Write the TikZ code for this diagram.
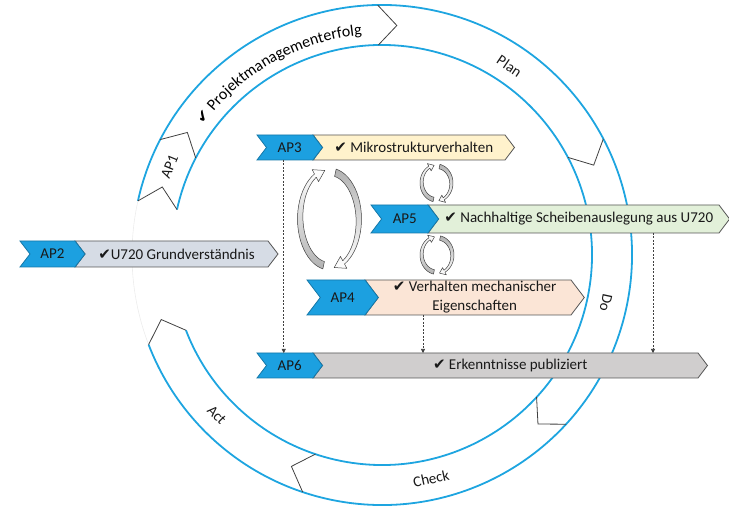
\documentclass[tikz,border=0pt]{standalone}
\usepackage{fontspec}
\setmainfont{Carlito}
\newfontfamily\chk{DejaVu Sans}
\usetikzlibrary{arrows.meta,decorations.text,calc}
\pgfdeclarelayer{ringl}
\pgfdeclarelayer{boxl}
\pgfsetlayers{ringl,boxl,main}
\definecolor{ringblue}{RGB}{30,165,224}
\definecolor{apblue}{RGB}{28,160,224}
\definecolor{yel}{RGB}{255,242,204}
\definecolor{gblue}{RGB}{214,220,229}
\definecolor{grn}{RGB}{226,240,217}
\definecolor{pch}{RGB}{251,229,214}
\definecolor{gry}{RGB}{208,206,206}
\definecolor{edgec}{RGB}{85,85,85}
\definecolor{segc}{RGB}{64,64,64}
\newcommand\ck{{\chk\fontsize{15}{15}\selectfont ✔}}
\newcommand\ringf{\fontsize{16}{18}\selectfont}
\newcommand\ringck{\fontsize{15}{17}\selectfont\chk}
\newcommand\chevbg[4]{%
  \begin{pgfonlayer}{boxl}
  \filldraw[fill=#3, draw=#4, line width=0.8pt, line join=miter]
    ([xshift=-#2/2*1pt]#1.north west) -- ([xshift=-#2/2*1pt]#1.north east)
    -- ([xshift=#2/2*1pt]#1.east) -- ([xshift=-#2/2*1pt]#1.south east)
    -- ([xshift=-#2/2*1pt]#1.south west) -- ([xshift=#2/2*1pt]#1.west) -- cycle;
  \end{pgfonlayer}}
\newcommand\cycarrow[7]{%
  \shade[#7, draw=segc, line width=0.5pt, line join=round]
    plot[domain=258:118, samples=25, variable=\s] ({#1+#3*cos(\s+#6)},{#2+#4*sin(\s+#6)})
    -- ({#1+(#3+0.65*#5)*cos(118+#6)},{#2+(#4+0.65*#5)*sin(118+#6)})
    -- ({#1+(#3-0.25*#5)*cos(99+#6)},{#2+(#4-0.25*#5)*sin(99+#6)})
    -- ({#1+(#3-1.15*#5)*cos(118+#6)},{#2+(#4-1.15*#5)*sin(118+#6)})
    -- plot[domain=118:258, samples=25, variable=\s]
       ({#1+(#3-0.5*#5-0.5*#5*(\s-118)/140)*cos(\s+#6)},{#2+(#4-0.5*#5-0.5*#5*(\s-118)/140)*sin(\s+#6)})
    -- cycle;}
\begin{document}
\begin{tikzpicture}[x=1pt,y=1pt,font=\fontsize{15}{17}\selectfont,
  lab/.style={inner sep=0pt, outer sep=0pt, text=black!90},
  txt/.style={inner sep=0pt, outer sep=0pt, text=black!90, align=center},
  ringtxt/.style={inner sep=0pt, text=black!90},
  dep/.style={draw=black!75, line width=0.6pt, dash pattern=on 2pt off 1.5pt, -{Triangle[length=4pt,width=4pt]}},
  cycL/.style={top color=white, middle color=white, bottom color=gray!60},
  cycR/.style={top color=gray!60, middle color=white, bottom color=white}]
\useasboundingbox (0,0) rectangle (729,509);
\coordinate (O) at (382,254);
% ring
\begin{pgfonlayer}{ringl}
\draw[gray!15, line width=0.6pt] ($(O)+(-159:250)$) arc[start angle=-159, end angle=-192.5, radius=250];
\draw[ringblue, line width=1.8pt] ($(O)+(167.5:250)$) arc[start angle=167.5, end angle=-159, radius=250];
\draw[ringblue, line width=1.8pt] ($(O)+(167.5:210)$) arc[start angle=167.5, end angle=-159, radius=210];
\foreach \b in {167.5,152.5,91,27.7,-42.6,-108.5,-159}
  \draw[segc, line width=0.8pt, line join=miter] ($(O)+(\b:250)$) -- ($(O)+({\b-4.7}:230)$) -- ($(O)+(\b:210)$);
\end{pgfonlayer}
% ring labels
\node[ringtxt, rotate=67.5] (lap1) at ($(O)+(157.5:230)$) {AP1};
\node[ringtxt, rotate=-34] (lplan) at ($(O)+(56:228)$) {Plan};
\node[ringtxt, rotate=-102] (ldo) at ($(O)+(-12:229)$) {Do};
\node[ringtxt, rotate=12.4] (lcheck) at ($(O)+(-77.6:229)$) {Check};
\node[ringtxt, rotate=-45.9] (lact) at ($(O)+(-135.9:230)$) {Act};
\path[decorate, decoration={text along path, text align=center,
  text={|\ringck|✔|\ringf| Projektmanagementerfolg}}]
  ($(O)+(150:221)$) arc[start angle=150, end angle=89, radius=221];
% rows
\node[txt, minimum width=193, minimum height=26] (t2) at (176.5,255) {\ck U720 Grundverständnis};
\node[lab, minimum width=55, minimum height=26] (a2) at (52.5,255) {AP2};
\chevbg{t2}{10}{gblue}{edgec}
\chevbg{a2}{10}{apblue}{apblue!75!black}
\node[txt, minimum width=192, minimum height=25] (t3) at (413.75,361.5) {\ck{} Mikrostrukturverhalten};
\node[lab, minimum width=56, minimum height=25] (a3) at (289.75,361.5) {AP3};
\chevbg{t3}{9.5}{yel}{edgec}
\chevbg{a3}{9.5}{apblue}{apblue!75!black}
\node[txt, minimum width=291, minimum height=28] (t5) at (578.8,290) {\ck{} Nachhaltige Scheibenauslegung aus U720};
\node[lab, minimum width=57, minimum height=28] (a5) at (404.8,290) {AP5};
\chevbg{t5}{10.6}{grn}{edgec}
\chevbg{a5}{10.6}{apblue}{apblue!75!black}
\node[txt, minimum width=206, minimum height=35, font=\fontsize{15}{19}\selectfont] (t4) at (474.65,211.5) {\ck{} Verhalten mechanischer\\Eigenschaften};
\node[lab, minimum width=58, minimum height=35] (a4) at (342.65,211.5) {AP4};
\chevbg{t4}{13.3}{pch}{edgec}
\chevbg{a4}{13.3}{apblue}{apblue!75!black}
\node[txt, minimum width=385, minimum height=25] (t6) at (510.25,143.5) {\ck{} Erkenntnisse publiziert};
\node[lab, minimum width=56, minimum height=25] (a6) at (289.75,143.5) {AP6};
\chevbg{t6}{9.5}{gry}{edgec}
\chevbg{a6}{9.5}{apblue}{apblue!75!black}
% dependencies
\draw[dep] ([xshift=-6]a3.south) -- ([xshift=-6]a3.south |- a6.north);
\draw[dep] ([xshift=-51.65]t4.south) -- ([xshift=-51.65]t4.south |- t6.north);
\draw[dep] ([xshift=74.2]t5.south) -- ([xshift=74.2]t5.south |- t6.north);
% cycle arrows
\cycarrow{329.5}{290}{32}{51}{7.5}{0}{cycL}
\cycarrow{329.5}{290}{32}{51}{7.5}{180}{cycR}
\cycarrow{436.5}{326}{16.5}{19}{4.5}{0}{cycL}
\cycarrow{436.5}{326}{16.5}{19}{4.5}{180}{cycR}
\cycarrow{437}{254}{17}{19.5}{4.5}{0}{cycL}
\cycarrow{437}{254}{17}{19.5}{4.5}{180}{cycR}
\end{tikzpicture}
\end{document}
